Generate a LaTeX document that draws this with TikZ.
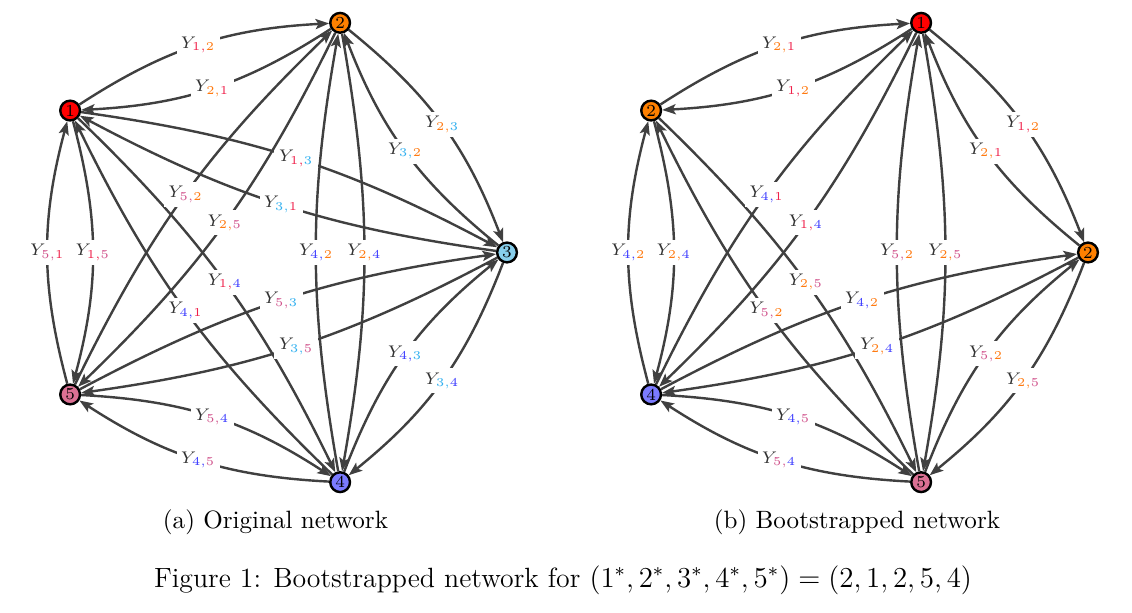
\documentclass[tikz,border=0pt]{standalone}
\usepackage{amsmath, amssymb}
\usepackage{xcolor}
\usepackage{tikz}
\usetikzlibrary{arrows.meta, positioning}

% node colours
\definecolor{nc1}{HTML}{FF0000}
\definecolor{nc2}{HTML}{FF8000}
\definecolor{nc3}{HTML}{87CEEB}
\definecolor{nc4}{HTML}{7B7BFF}
\definecolor{nc5}{HTML}{DB7093}
% subscript colours
\definecolor{lc1}{HTML}{F0204A}
\definecolor{lc2}{HTML}{FF7A10}
\definecolor{lc3}{HTML}{30B0F0}
\definecolor{lc4}{HTML}{3A3AFF}
\definecolor{lc5}{HTML}{D0508A}

\newcommand{\Ylab}[2]{$\color{black!80}Y_{\textcolor{lc#1}{#1,}\textcolor{lc#2}{#2}}$}

\begin{document}
\begin{tikzpicture}[x=0.415pt, y=0.415pt, > = {Stealth[length=5.6pt, width=4.2pt, inset=1.2pt]},
	vertex/.style={circle, draw, line width=1pt, inner sep=0pt, minimum size=8.2pt, font=\scriptsize},
	link/.style={->, draw=black!75, line width=1pt},
	ylab/.style={fill=white, inner sep=1.8pt, font=\fontsize{7.5}{8}\selectfont}]
	\useasboundingbox (0,0) rectangle (1132,613);
	
	% original network
	\begin{scope}[shift={(265.5,360.5)}]
		\foreach \k/\c in {1/144, 2/72, 3/0, 4/-72, 5/-144}
			\node [vertex, fill=nc\k] (a\k) at (\c:241.5) {\k};
	\end{scope}
	\foreach \i/\j/\b in {1/2/15, 2/1/15, 2/3/15, 3/2/15, 3/4/15, 4/3/15, 4/5/15, 5/4/15,
		5/1/15, 1/5/15, 1/3/10, 3/1/10, 1/4/10, 4/1/10, 2/4/10, 4/2/10, 2/5/10, 5/2/10, 3/5/10, 5/3/10}
		\draw [link] (a\i) to [bend left=\b] node [ylab] {\Ylab{\i}{\j}} (a\j);
	
	% bootstrapped network
	\begin{scope}[shift={(846.5,360.5)}]
		\foreach \k/\n/\c in {1/2/144, 2/1/72, 3/2/0, 4/5/-72, 5/4/-144}
			\node [vertex, fill=nc\n] (b\k) at (\c:241.5) {\n};
	\end{scope}
	\foreach \i/\j/\b/\p/\q in {1/2/15/2/1, 2/1/15/1/2, 2/3/15/1/2, 3/2/15/2/1, 3/4/15/2/5, 4/3/15/5/2,
		4/5/15/5/4, 5/4/15/4/5, 5/1/15/4/2, 1/5/15/2/4, 1/4/10/2/5, 4/1/10/5/2, 2/4/10/2/5, 4/2/10/5/2,
		2/5/10/1/4, 5/2/10/4/1, 3/5/10/2/4, 5/3/10/4/2}
		\draw [link] (b\i) to [bend left=\b] node [ylab] {\Ylab{\p}{\q}} (b\j);
	
	% captions
	\node [font=\fontsize{10.4}{12}\selectfont] (capa) at (275.5,91) {(a) Original network};
	\node [font=\fontsize{10.4}{12}\selectfont] (capb) at (857,91) {(b) Bootstrapped network};
	\node [font=\fontsize{11.55}{13}\selectfont] (capfig) at (563,33)
		{Figure 1: Bootstrapped network for $(1^*, 2^*, 3^*, 4^*, 5^*) = (2, 1, 2, 5, 4)$};
\end{tikzpicture}
\end{document}
